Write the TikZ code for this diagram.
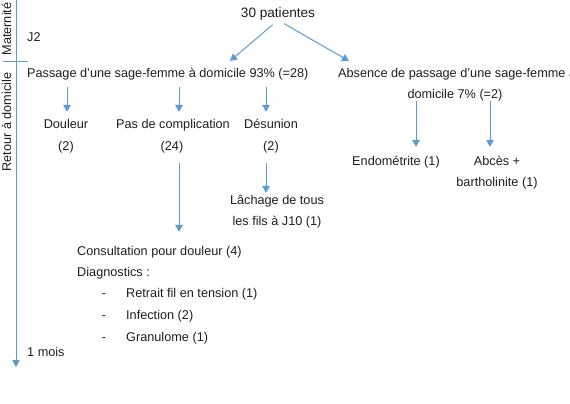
\documentclass[tikz,border=0pt]{standalone}
\usepackage{fontspec}
\setmainfont{Liberation Sans}
\usetikzlibrary{arrows.meta}
\definecolor{lineblue}{RGB}{91,155,213}
\definecolor{txtgray}{RGB}{30,30,30}
\tikzset{
  txt/.style={inner sep=0pt,text height=9.1pt,text depth=2.7pt,font=\fontsize{12.7}{15}\selectfont,text=txtgray},
  link/.style={draw=lineblue,line width=1pt,-{Triangle[width=7.5pt,length=7pt]}},
}
\begin{document}
\begin{tikzpicture}[x=1pt,y=-1pt]
\useasboundingbox (0,0) rectangle (570,404);
% time axis
\coordinate (t0) at (16,0);
\coordinate (t1) at (16,367);
\coordinate (m0) at (3,62);
\coordinate (m1) at (28,62);
\draw[link](t0)--(t1);
\draw[lineblue,line width=1pt](m0)--(m1);
\node[txt,rotate=90] (mat) at (8,29) {Maternité};
\node[txt,rotate=90] (ret) at (8,122) {Retour à domicile};
\node[txt,anchor=west] (j2) at (27,38) {J2};
\node[txt,anchor=west] (mois) at (27,353) {1 mois};
% first split
\node[txt,font=\fontsize{13.6}{16}\selectfont] (pat) at (278,14) {30 patientes};
\node[txt,anchor=west] (pas) at (27,74) {Passage d'une sage-femme à domicile 93\% (=28)};
\node[txt,anchor=west] (abs) at (338,74) {Absence de passage d'une sage-femme à};
\node[txt] (dom) at (455,95) {domicile 7\% (=2)};
\coordinate (pasin) at (230,61);
\coordinate (absin) at (349,61);
\draw[link,shorten <=7pt](pat.south)--(pasin);
\draw[link,shorten <=7pt](pat.south)--(absin);
% columns
\coordinate (c1) at (67,0);
\coordinate (c2) at (179,0);
\coordinate (c3) at (266,0);
\coordinate (c4) at (416,0);
\coordinate (c5) at (490,0);
\node[txt] (dou) at (66,125) {Douleur};
\node[txt] (doun) at (66,147) {(2)};
\node[txt] (pdc) at (173,125) {Pas de complication};
\node[txt] (pdcn) at (172,147) {(24)};
\node[txt] (des) at (271,125) {Désunion};
\node[txt] (desn) at (271,147) {(2)};
\draw[link,shorten <=7pt,shorten >=7pt](pas.south -| c1)--(dou.north -| c1);
\draw[link,shorten <=7pt,shorten >=7pt](pas.south -| c2)--(pdc.north -| c2);
\draw[link,shorten <=7pt,shorten >=7pt](pas.south -| c3)--(des.north -| c3);
\node[txt] (lach) at (277,201) {Lâchage de tous};
\node[txt] (lachn) at (277,222) {les fils à J10 (1)};
\draw[link,shorten <=9.5pt,shorten >=2pt](desn.south -| c3)--(lach.north -| c3);
\node[txt] (endo) at (396,162) {Endométrite (1)};
\node[txt] (abc) at (497,162) {Abcès +};
\node[txt] (abcn) at (497,183) {bartholinite (1)};
\draw[link,shorten >=9pt](dom.south -| c4)--(endo.north -| c4);
\draw[link,shorten >=9pt](dom.south -| c5)--(abc.north -| c5);
% consultations
\node[txt,anchor=west] (cons) at (77,252) {Consultation pour douleur (4)};
\node[txt,anchor=west] (diag) at (77,273) {Diagnostics :};
\draw[link,shorten <=9.5pt,shorten >=14pt](pdcn.south -| c2)--(cons.north -| c2);
\foreach \y/\t [count=\i] in {294/Retrait fil en tension (1),316/Infection (2),338/Granulome (1)}{
  \node[txt] (dash\i) at (104,\y) {-};
  \node[txt,anchor=west] (dg\i) at (126,\y) {\t};
}
\end{tikzpicture}
\end{document}
